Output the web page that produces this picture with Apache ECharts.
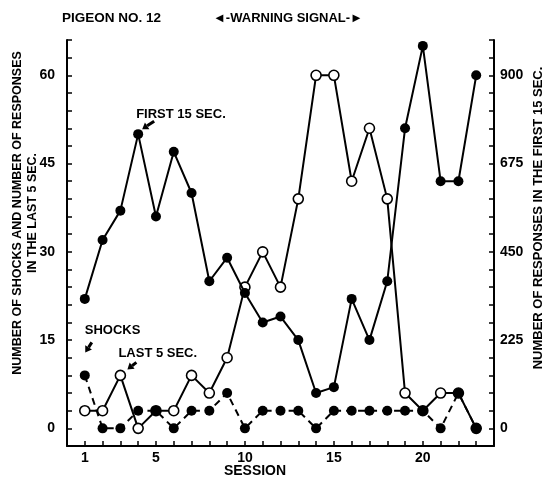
<!DOCTYPE html>
<html>
<head>
<meta charset="utf-8">
<script src="https://cdn.jsdelivr.net/npm/echarts@6/dist/echarts.min.js"></script>
<style>
html,body{margin:0;padding:0;background:#fff;}
#c{width:553px;height:479px;}
</style>
</head>
<body>
<div id="c"></div>
<script>
// ---- data ----
const sessions = [1,2,3,4,5,6,7,8,9,10,11,12,13,14,15,16,17,18,19,20,21,22,23];
const first15 = [330,480,555,750,540,705,600,375,435,345,270,285,225,90,105,330,225,375,765,975,630,630,900];
const last5   = [3,3,9,0,3,3,9,6,12,24,30,24,39,60,60,42,51,39,6,3,6,6,0];
const shocks  = [9,0,0,3,3,0,3,3,6,0,3,3,3,0,3,3,3,3,3,3,0,6,0];
const xLabels = [1,5,10,15,20];
const leftLabels = [0,15,30,45,60];
const rightLabels = [0,225,450,675,900];
const leftTicks = [0,3,6,9,12,15,18,21,24,27,30,33,36,39,42,45,48,51,54,57,60,63,66];
const rightTicks = [0,45,90,135,180,225,270,315,360,405,450,495,540,585,630,675,720,765,810,855,900,945,990];

const FONT = '"Liberation Sans", Arial, sans-serif';
const pair = a => a.map((v,i)=>[sessions[i], v]);

const chart = echarts.init(document.getElementById('c'), null, {renderer:'canvas'});
const axisBase = {
  axisLine:{show:true, onZero:false, lineStyle:{color:'#000', width:2}},
  axisTick:{show:true, inside:true, length:5, lineStyle:{color:'#000', width:1.5}},
  splitLine:{show:false},
  axisLabel:{color:'#000', fontFamily:FONT, fontWeight:'bold', fontSize:14}
};
chart.setOption({
  animation:false,
  backgroundColor:'#fff',
  grid:{left:67, right:59, top:40, bottom:33, containLabel:false},
  xAxis:{type:'value', min:0, max:24,
    axisLine:axisBase.axisLine, splitLine:{show:false},
    axisTick:Object.assign({}, axisBase.axisTick, {customValues:sessions}),
    axisLabel:Object.assign({}, axisBase.axisLabel, {customValues:xLabels, margin:5})
  },
  yAxis:[
    {type:'value', position:'left', min:-3, max:66,
      axisLine:axisBase.axisLine, splitLine:{show:false},
      axisTick:Object.assign({}, axisBase.axisTick, {customValues:leftTicks}),
      axisLabel:Object.assign({}, axisBase.axisLabel, {customValues:leftLabels, margin:12})
    },
    {type:'value', position:'right', min:-45, max:990,
      axisLine:axisBase.axisLine, splitLine:{show:false},
      axisTick:Object.assign({}, axisBase.axisTick, {customValues:rightTicks}),
      axisLabel:Object.assign({}, axisBase.axisLabel, {customValues:rightLabels, margin:6})
    }
  ],
  series:[
    {name:'Last 5 sec', type:'line', yAxisIndex:0, data:pair(last5),
      symbol:'circle', symbolSize:10, showSymbol:true,
      lineStyle:{color:'#000', width:2},
      itemStyle:{color:'#fff', borderColor:'#000', borderWidth:1.6}, z:3},
    {name:'Shocks', type:'line', yAxisIndex:0, data:pair(shocks),
      symbol:'circle', symbolSize:10,
      lineStyle:{color:'#000', width:2, type:[7,5]},
      itemStyle:{color:'#000', borderColor:'#000', borderWidth:0}, z:4},
    {name:'First 15 sec', type:'line', yAxisIndex:1, data:pair(first15),
      symbol:'circle', symbolSize:10,
      lineStyle:{color:'#000', width:2},
      itemStyle:{color:'#000', borderColor:'#000', borderWidth:0}, z:5}
  ]
});

function txt(x, y, s, opt) {
  opt = opt || {};
  return {type:'text', x:x, y:y, rotation:opt.rot || 0, z:10,
    style:{text:s, fill:'#000', font:'bold ' + (opt.size||13) + 'px ' + FONT,
      align:opt.align||'left', verticalAlign:'middle', lineHeight:opt.lh}};
}
function arrow(tail, tip) {
  const dx = tip[0]-tail[0], dy = tip[1]-tail[1];
  const L = Math.sqrt(dx*dx+dy*dy), ux = dx/L, uy = dy/L;
  const hl = 6, hw = 4;
  const bx = tip[0]-ux*hl, by = tip[1]-uy*hl;
  return [
    {type:'line', z:10, shape:{x1:tail[0], y1:tail[1], x2:bx, y2:by}, style:{stroke:'#000', lineWidth:3}},
    {type:'polygon', z:10, shape:{points:[[tip[0],tip[1]],[bx-uy*hw, by+ux*hw],[bx+uy*hw, by-ux*hw]]}, style:{fill:'#000'}}
  ];
}
const pF = chart.convertToPixel({xAxisIndex:0, yAxisIndex:1}, [sessions[3], first15[3]]);
const pS = chart.convertToPixel({xAxisIndex:0, yAxisIndex:0}, [sessions[0], shocks[0]]);
const pL = chart.convertToPixel({xAxisIndex:0, yAxisIndex:0}, [sessions[2], last5[2]]);

const g = [
  txt(62, 18, 'PIGEON NO. 12', {size:13.5}),
  txt(213, 18, '\u25C4-WARNING SIGNAL-\u25BA'),
  txt(pF[0]-2, pF[1]-20, 'FIRST 15 SEC.'),
  txt(pS[0], pS[1]-45, 'SHOCKS'),
  txt(pL[0]-2, pL[1]-22, 'LAST 5 SEC.'),
  txt(255, 471, 'SESSION', {align:'center', size:14}),
  txt(25, 213, 'NUMBER OF SHOCKS AND NUMBER OF RESPONSES\nIN THE LAST 5 SEC.', {align:'center', rot:Math.PI/2, size:12.5, lh:15}),
  txt(538, 218, 'NUMBER OF RESPONSES IN THE FIRST 15 SEC.', {align:'center', rot:Math.PI/2})
].concat(
  arrow([pF[0]+16, pF[1]-13], [pF[0]+4, pF[1]-5]),
  arrow([pS[0]+7, pS[1]-33], [pS[0]+0.5, pS[1]-23]),
  arrow([pL[0]+16, pL[1]-13], [pL[0]+7, pL[1]-6])
);
chart.setOption({graphic:g});
</script>
</body>
</html>
